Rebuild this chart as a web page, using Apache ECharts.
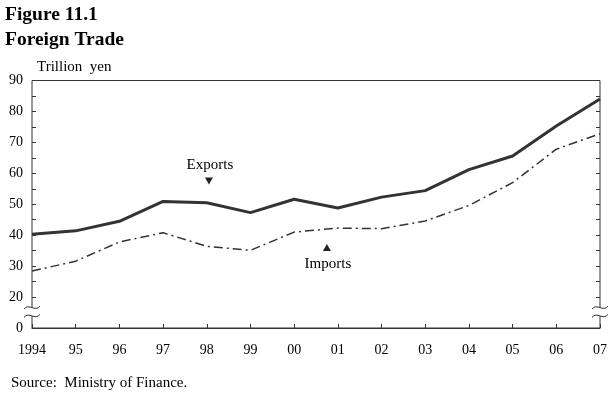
<!DOCTYPE html>
<html>
<head>
<meta charset="utf-8">
<script src="https://cdn.jsdelivr.net/npm/echarts@6/dist/echarts.min.js"></script>
<style>html,body{margin:0;padding:0;background:#fff}#c{width:612px;height:395px}</style>
</head>
<body>
<div id="c"></div>
<script>
var categories = ['1994','95','96','97','98','99','00','01','02','03','04','05','06','07'];
var exportsData = [40.3, 41.4, 44.5, 50.9, 50.5, 47.3, 51.6, 48.8, 52.3, 54.4, 61.2, 65.6, 75.3, 84.0];
var importsData = [28.4, 31.6, 37.8, 40.8, 36.4, 35.1, 41.0, 42.3, 42.1, 44.6, 49.6, 57.0, 67.8, 72.8];
var yLabelMap = {10:'0',20:'20',30:'30',40:'40',50:'50',60:'60',70:'70',80:'80',90:'90'};

var FONT = '"Liberation Serif","Times New Roman",serif';
var chart = echarts.init(document.getElementById('c'), null, {renderer:'canvas'});
var axisCol = '#333';
chart.setOption({
  animation:false,
  backgroundColor:'#fff',
  title:[
    {text:'Figure 11.1', left:5, top:5, padding:0, textStyle:{fontFamily:FONT,fontSize:19.5,fontWeight:'bold',color:'#000'}},
    {text:'Foreign Trade', left:5, top:30, padding:0, textStyle:{fontFamily:FONT,fontSize:19.5,fontWeight:'bold',color:'#000'}},
    {text:'Trillion  yen', left:37, top:60, padding:0, textStyle:{fontFamily:FONT,fontSize:15,fontWeight:'normal',color:'#000'}},
    {text:'Source:  Ministry of Finance.', left:11, top:376, padding:0, textStyle:{fontFamily:FONT,fontSize:15,fontWeight:'normal',color:'#000'}}
  ],
  grid:{left:32, right:12, top:80.5, bottom:67, show:true, borderColor:axisCol, borderWidth:1, backgroundColor:'transparent'},
  xAxis:{type:'category', data:categories, boundaryGap:false,
    axisLine:{show:true, lineStyle:{color:axisCol,width:1}},
    axisTick:{show:true, inside:true, length:4, alignWithLabel:true, lineStyle:{color:axisCol}},
    axisLabel:{margin:15, color:'#000', fontFamily:FONT, fontSize:14, interval:0},
    splitLine:{show:false}},
  yAxis:[
    {type:'value', min:10, max:90, interval:5, position:'left',
     axisLine:{show:false}, axisTick:{show:true, inside:true, length:4, lineStyle:{color:axisCol}},
     axisLabel:{margin:9, color:'#000', fontFamily:FONT, fontSize:14, formatter:function(v){return yLabelMap[v]||'';}},
     splitLine:{show:false}},
    {type:'value', min:10, max:90, interval:5, position:'right',
     axisLine:{show:false}, axisTick:{show:true, inside:true, length:4, lineStyle:{color:axisCol}},
     axisLabel:{show:false}, splitLine:{show:false}}
  ],
  series:[
    {name:'Exports', type:'line', data:exportsData, symbol:'none', yAxisIndex:0,
     lineStyle:{color:'#333', width:3}},
    {name:'Imports', type:'line', data:importsData, symbol:'none', yAxisIndex:0,
     lineStyle:{color:'#333', width:1.5, type:[9,4,2,4]}}
  ]
});

function px(x, y){
  var i = Math.floor(x), f = x - i;
  var a = chart.convertToPixel({gridIndex:0}, [i, y]);
  if (f > 0) {
    var b = chart.convertToPixel({gridIndex:0}, [i + 1, y]);
    a = [a[0] + (b[0] - a[0]) * f, a[1]];
  }
  return a;
}
var g = [];
var rect = chart.getModel().getComponent('grid',0).coordinateSystem.getRect();
var xs = [rect.x, rect.x + rect.width];
var yUp = px(0, 16.6)[1], yDn = px(0, 13.9)[1];
xs.forEach(function(x){
  g.push({type:'rect', shape:{x:x-4, y:yUp, width:9, height:yDn-yUp}, style:{fill:'#fff'}, z:100});
  [yUp, yDn].forEach(function(y){
    g.push({type:'bezierCurve', z:101,
      shape:{x1:x-8, y1:y+1.5, cpx1:x-3, cpy1:y-5, cpx2:x+3, cpy2:y+5, x2:x+8, y2:y-1.5},
      style:{fill:null, stroke:'#333', lineWidth:1}});
  });
});
// annotations
var ea = px(4.05, 57.5);
g.push({type:'polygon', z:101, shape:{points:[[ea[0]-4,ea[1]-3.5],[ea[0]+4,ea[1]-3.5],[ea[0],ea[1]+3.5]]}, style:{fill:'#222'}});
g.push({type:'text', z:101, x:ea[0]+1, y:ea[1]-16, style:{text:'Exports', font:'15px '+FONT, fill:'#000', align:'center', verticalAlign:'middle'}});
var ia = px(6.75, 36.0);
g.push({type:'polygon', z:101, shape:{points:[[ia[0]-4,ia[1]+3.5],[ia[0]+4,ia[1]+3.5],[ia[0],ia[1]-3.5]]}, style:{fill:'#222'}});
g.push({type:'text', z:101, x:ia[0]+1, y:ia[1]+16, style:{text:'Imports', font:'15px '+FONT, fill:'#000', align:'center', verticalAlign:'middle'}});
chart.setOption({graphic:g});
</script>
</body>
</html>
